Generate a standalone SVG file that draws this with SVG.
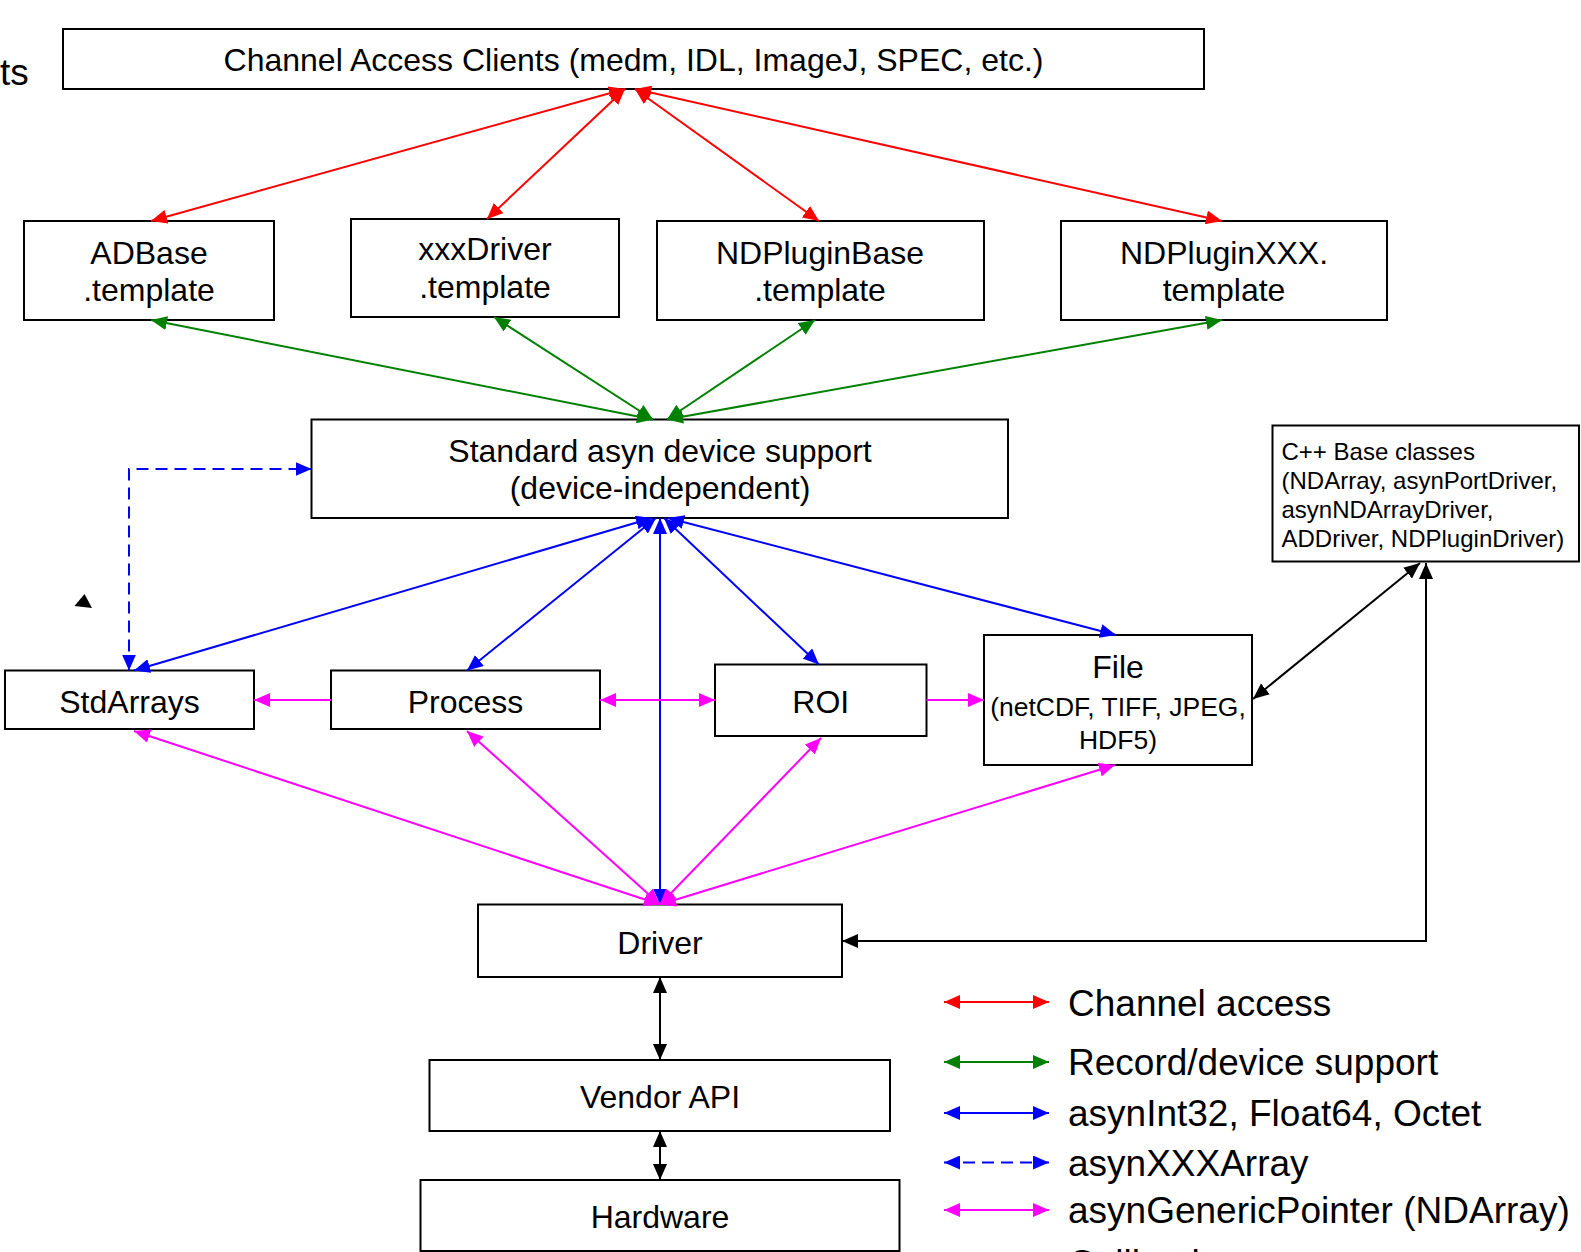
<svg xmlns="http://www.w3.org/2000/svg" width="1581" height="1252" viewBox="0 0 1581 1252">
  <style>
    .box { fill: #ffffff; stroke: #000000; stroke-width: 2; }
    .lbl { font-family: "Liberation Sans", Arial, sans-serif; font-size: 32px; fill: #000000; text-anchor: middle; }
    .small { font-family: "Liberation Sans", Arial, sans-serif; font-size: 24px; fill: #000000; }
    .mid { font-family: "Liberation Sans", Arial, sans-serif; font-size: 26.5px; fill: #000000; text-anchor: middle; }
    .leg { font-family: "Liberation Sans", Arial, sans-serif; font-size: 37px; fill: #000000; }
    .ca { stroke: #ff0000; stroke-width: 2; fill: none; }
    .rec { stroke: #008000; stroke-width: 2; fill: none; }
    .asyn { stroke: #0000ff; stroke-width: 2; fill: none; }
    .arr { stroke: #0000ff; stroke-width: 2; fill: none; stroke-dasharray: 12 7; }
    .gp { stroke: #ff00ff; stroke-width: 2; fill: none; }
    .cpp { stroke: #000000; stroke-width: 2; fill: none; }
  </style>
  <defs>
    <marker id="mRed" viewBox="0 0 16 14" refX="16" refY="7" markerWidth="16" markerHeight="14" markerUnits="userSpaceOnUse" orient="auto-start-reverse">
      <path d="M0,0 L16,7 L0,14 z" fill="#ff0000"/>
    </marker>
    <marker id="mGreen" viewBox="0 0 16 14" refX="16" refY="7" markerWidth="16" markerHeight="14" markerUnits="userSpaceOnUse" orient="auto-start-reverse">
      <path d="M0,0 L16,7 L0,14 z" fill="#008000"/>
    </marker>
    <marker id="mBlue" viewBox="0 0 16 14" refX="16" refY="7" markerWidth="16" markerHeight="14" markerUnits="userSpaceOnUse" orient="auto-start-reverse">
      <path d="M0,0 L16,7 L0,14 z" fill="#0000ff"/>
    </marker>
    <marker id="mMag" viewBox="0 0 16 14" refX="16" refY="7" markerWidth="16" markerHeight="14" markerUnits="userSpaceOnUse" orient="auto-start-reverse">
      <path d="M0,0 L16,7 L0,14 z" fill="#ff00ff"/>
    </marker>
    <marker id="mBlack" viewBox="0 0 16 14" refX="16" refY="7" markerWidth="16" markerHeight="14" markerUnits="userSpaceOnUse" orient="auto-start-reverse">
      <path d="M0,0 L16,7 L0,14 z" fill="#000000"/>
    </marker>
  </defs>

  <rect width="1581" height="1252" fill="#ffffff"/>

  <!-- edge of a side caption -->
  <text class="leg" x="0" y="85">ts</text>

  <!-- nodes -->
  <g id="ca-clients">
    <rect class="box" x="63" y="29" width="1141" height="60"/>
    <text class="lbl" x="633.5" y="71">Channel Access Clients (medm, IDL, ImageJ, SPEC, etc.)</text>
  </g>
  <g id="adbase-template">
    <rect class="box" x="24" y="221" width="250" height="99"/>
    <text class="lbl" x="149" y="264">ADBase</text>
    <text class="lbl" x="149" y="301">.template</text>
  </g>
  <g id="xxxdriver-template">
    <rect class="box" x="351" y="219" width="268" height="98"/>
    <text class="lbl" x="485" y="260">xxxDriver</text>
    <text class="lbl" x="485" y="298">.template</text>
  </g>
  <g id="ndpluginbase-template">
    <rect class="box" x="657" y="221" width="327" height="99"/>
    <text class="lbl" x="820" y="264">NDPluginBase</text>
    <text class="lbl" x="820" y="301">.template</text>
  </g>
  <g id="ndpluginxxx-template">
    <rect class="box" x="1061" y="221" width="326" height="99"/>
    <text class="lbl" x="1224" y="264">NDPluginXXX.</text>
    <text class="lbl" x="1224" y="301">template</text>
  </g>
  <g id="asyn-device-support">
    <rect class="box" x="311.5" y="419.5" width="696.5" height="98.5"/>
    <text class="lbl" x="660" y="462">Standard asyn device support</text>
    <text class="lbl" x="660" y="499">(device-independent)</text>
  </g>
  <g id="cpp-base-classes">
    <rect class="box" x="1272.5" y="425.5" width="306.5" height="136"/>
    <text class="small" x="1281.5" y="460">C++ Base classes</text>
    <text class="small" x="1281.5" y="489">(NDArray, asynPortDriver,</text>
    <text class="small" x="1281.5" y="518">asynNDArrayDriver,</text>
    <text class="small" x="1281.5" y="546.5">ADDriver, NDPluginDriver)</text>
  </g>
  <g id="stdarrays">
    <rect class="box" x="5" y="670.5" width="249" height="58.5"/>
    <text class="lbl" x="129.5" y="713">StdArrays</text>
  </g>
  <g id="process">
    <rect class="box" x="331" y="670.5" width="269" height="58.5"/>
    <text class="lbl" x="465.5" y="713">Process</text>
  </g>
  <g id="roi">
    <rect class="box" x="715" y="664.5" width="211.5" height="71.5"/>
    <text class="lbl" x="820.8" y="713">ROI</text>
  </g>
  <g id="file">
    <rect class="box" x="984" y="635" width="268" height="130"/>
    <text class="lbl" x="1118" y="677.5">File</text>
    <text class="mid" x="1118" y="716">(netCDF, TIFF, JPEG,</text>
    <text class="mid" x="1118" y="748.5">HDF5)</text>
  </g>
  <g id="driver">
    <rect class="box" x="478" y="904.5" width="364" height="72.5"/>
    <text class="lbl" x="660" y="954">Driver</text>
  </g>
  <g id="vendor-api">
    <rect class="box" x="429.5" y="1060" width="460.5" height="71"/>
    <text class="lbl" x="660" y="1108">Vendor API</text>
  </g>
  <g id="hardware">
    <rect class="box" x="420.5" y="1180" width="479" height="71"/>
    <text class="lbl" x="660" y="1228">Hardware</text>
  </g>

  <!-- connectors -->
  <g id="connectors">
    <!-- channel access -->
    <line class="ca" x1="625" y1="89" x2="151" y2="221" marker-start="url(#mRed)" marker-end="url(#mRed)"/>
    <line class="ca" x1="625" y1="89" x2="487" y2="219" marker-start="url(#mRed)" marker-end="url(#mRed)"/>
    <line class="ca" x1="635" y1="89" x2="819" y2="221" marker-start="url(#mRed)" marker-end="url(#mRed)"/>
    <line class="ca" x1="635" y1="89" x2="1222" y2="221" marker-start="url(#mRed)" marker-end="url(#mRed)"/>

    <!-- record / device support -->
    <line class="rec" x1="653" y1="419.5" x2="151" y2="320" marker-start="url(#mGreen)" marker-end="url(#mGreen)"/>
    <line class="rec" x1="653" y1="419.5" x2="494" y2="317" marker-start="url(#mGreen)" marker-end="url(#mGreen)"/>
    <line class="rec" x1="667" y1="419.5" x2="815" y2="320" marker-start="url(#mGreen)" marker-end="url(#mGreen)"/>
    <line class="rec" x1="667" y1="419.5" x2="1222" y2="320" marker-start="url(#mGreen)" marker-end="url(#mGreen)"/>

    <!-- asynInt32 / Float64 / Octet -->
    <line class="asyn" x1="652" y1="518" x2="134" y2="670.5" marker-start="url(#mBlue)" marker-end="url(#mBlue)"/>
    <line class="asyn" x1="656" y1="518" x2="467" y2="670.5" marker-start="url(#mBlue)" marker-end="url(#mBlue)"/>
    <line class="asyn" x1="660" y1="518" x2="660" y2="904.5" marker-start="url(#mBlue)" marker-end="url(#mBlue)"/>
    <line class="asyn" x1="664" y1="518" x2="819" y2="664.5" marker-start="url(#mBlue)" marker-end="url(#mBlue)"/>
    <line class="asyn" x1="668" y1="518" x2="1116" y2="635" marker-start="url(#mBlue)" marker-end="url(#mBlue)"/>

    <!-- asynXXXArray -->
    <path class="arr" d="M129,670.5 V469 H311.5" marker-start="url(#mBlue)" marker-end="url(#mBlue)"/>

    <!-- asynGenericPointer -->
    <line class="gp" x1="331" y1="700" x2="254" y2="700" marker-end="url(#mMag)"/>
    <line class="gp" x1="600" y1="700" x2="715" y2="700" marker-start="url(#mMag)" marker-end="url(#mMag)"/>
    <line class="gp" x1="926.5" y1="700" x2="984" y2="700" marker-end="url(#mMag)"/>
    <line class="gp" x1="660" y1="904.5" x2="134" y2="731" marker-start="url(#mMag)" marker-end="url(#mMag)"/>
    <line class="gp" x1="660" y1="904.5" x2="467" y2="731" marker-start="url(#mMag)" marker-end="url(#mMag)"/>
    <line class="gp" x1="660" y1="904.5" x2="821" y2="738" marker-start="url(#mMag)" marker-end="url(#mMag)"/>
    <line class="gp" x1="660" y1="904.5" x2="1115" y2="765" marker-start="url(#mMag)" marker-end="url(#mMag)"/>

    <!-- C++ calls -->
    <line class="cpp" x1="1420" y1="563" x2="1253" y2="699" marker-start="url(#mBlack)" marker-end="url(#mBlack)"/>
    <path class="cpp" d="M1426,563 V941 H842" marker-start="url(#mBlack)" marker-end="url(#mBlack)"/>
    <line class="cpp" x1="660" y1="977" x2="660" y2="1060" marker-start="url(#mBlack)" marker-end="url(#mBlack)"/>
    <line class="cpp" x1="660" y1="1131" x2="660" y2="1180" marker-start="url(#mBlack)" marker-end="url(#mBlack)"/>
  </g>

  <!-- loose arrowhead -->
  <path d="M74.5,606 L84.5,594 L92,608 z" fill="#000000"/>

  <!-- legend -->
  <g id="legend">
    <line class="ca" x1="944" y1="1002" x2="1049" y2="1002" marker-start="url(#mRed)" marker-end="url(#mRed)"/>
    <text class="leg" x="1068" y="1015.5">Channel access</text>
    <line class="rec" x1="944" y1="1062" x2="1049" y2="1062" marker-start="url(#mGreen)" marker-end="url(#mGreen)"/>
    <text class="leg" x="1068" y="1075">Record/device support</text>
    <line class="asyn" x1="944" y1="1113" x2="1049" y2="1113" marker-start="url(#mBlue)" marker-end="url(#mBlue)"/>
    <text class="leg" x="1068" y="1126">asynInt32, Float64, Octet</text>
    <line class="arr" x1="944" y1="1162.5" x2="1049" y2="1162.5" marker-start="url(#mBlue)" marker-end="url(#mBlue)"/>
    <text class="leg" x="1068" y="1176">asynXXXArray</text>
    <line class="gp" x1="944" y1="1210" x2="1049" y2="1210" marker-start="url(#mMag)" marker-end="url(#mMag)"/>
    <text class="leg" x="1068" y="1223">asynGenericPointer (NDArray)</text>
    <text class="leg" x="1068" y="1276">Callbacks</text>
  </g>
</svg>
